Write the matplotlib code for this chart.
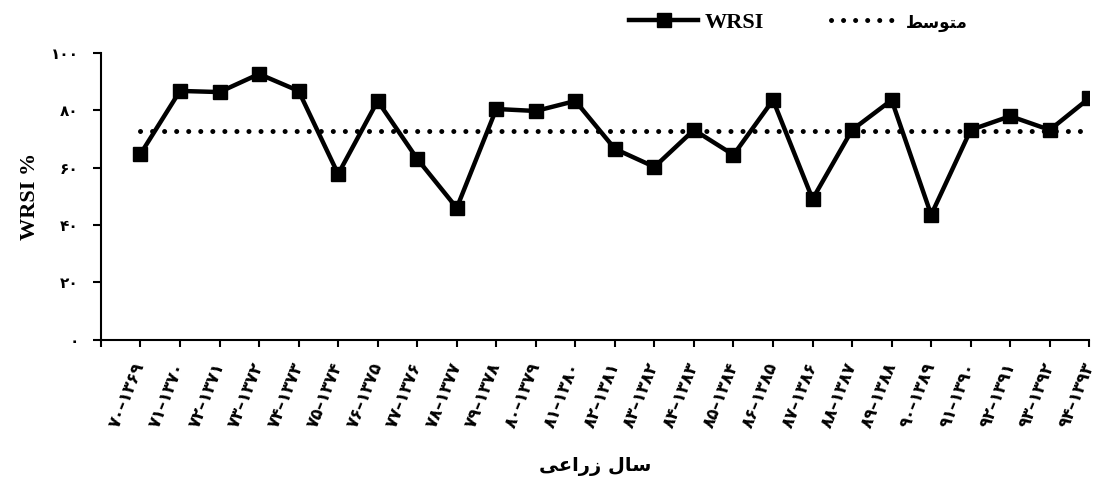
import matplotlib
matplotlib.use("Agg")
import matplotlib.pyplot as plt
import numpy as np

plt.rcParams["font.family"] = ["Liberation Serif", "DejaVu Sans"]
plt.rcParams["font.weight"] = "bold"

# crop years (Persian digits, visual order)
years = [
    "۷۰–۱۳۶۹", "۷۱–۱۳۷۰", "۷۲–۱۳۷۱", "۷۳–۱۳۷۲", "۷۴–۱۳۷۳",
    "۷۵–۱۳۷۴", "۷۶–۱۳۷۵", "۷۷–۱۳۷۶", "۷۸–۱۳۷۷", "۷۹–۱۳۷۸",
    "۸۰–۱۳۷۹", "۸۱–۱۳۸۰", "۸۲–۱۳۸۱", "۸۳–۱۳۸۲", "۸۴–۱۳۸۳",
    "۸۵–۱۳۸۴", "۸۶–۱۳۸۵", "۸۷–۱۳۸۶", "۸۸–۱۳۸۷", "۸۹–۱۳۸۸",
    "۹۰–۱۳۸۹", "۹۱–۱۳۹۰", "۹۲–۱۳۹۱", "۹۳–۱۳۹۲", "۹۴–۱۳۹۳",
]
wrsi = [64.8, 86.8, 86.4, 92.7, 86.8, 57.8, 83.3, 63.1, 46.0, 80.5,
        79.8, 83.3, 66.6, 60.3, 73.2, 64.5, 83.6, 49.1, 73.2, 83.6,
        43.6, 73.2, 78.0, 73.2, 84.3]
y_ticks = [0, 20, 40, 60, 80, 100]
y_tick_labels = ["۰", "۲۰", "۴۰", "۶۰", "۸۰", "۱۰۰"]

# Persian text pre-shaped into presentation forms, visual order
mean_label = "\ufec2\ufeb3\ufeee\ufe98\ufee3"          # متوسط
xlabel = "\ufef0\ufecb\ufe8d\ufead\ufeaf \ufedd\ufe8e\ufeb3"  # سال زراعی

x = np.arange(len(wrsi))
mean_val = np.mean(wrsi)

fig = plt.figure(figsize=(10.97, 4.78), dpi=100)
ax = fig.add_axes([0.092, 0.289, 0.901, 0.600])

ax.plot(x, wrsi, color="black", lw=3.2, marker="s", markersize=10,
        label="WRSI", zorder=3)
ax.plot(x, np.full(len(x), mean_val), color="black", lw=3.6,
        linestyle=(0, (0.01, 2.4)), dash_capstyle="round",
        label=mean_label, zorder=2)

ax.set_xlim(-1, len(x) - 1)
ax.set_ylim(0, 100)
ax.set_xticks(np.arange(-1, len(x)))
ax.set_xticklabels([""] + years, rotation=68, ha="right", va="center",
                   rotation_mode="anchor", fontsize=12,
                   family=["DejaVu Sans"], fontweight="bold")
ax.set_yticks(y_ticks)
ax.set_yticklabels(y_tick_labels, fontsize=11, family=["DejaVu Sans"],
                   fontweight="bold")
ax.tick_params(axis="x", direction="out", length=5, width=1.5, pad=12)
ax.tick_params(axis="y", direction="out", length=6, width=1.5, pad=10)
for side in ["top", "right"]:
    ax.spines[side].set_visible(False)
for side in ["left", "bottom"]:
    ax.spines[side].set_linewidth(1.5)

ax.set_ylabel("WRSI %", fontsize=16, fontweight="bold", labelpad=8)
ax.set_xlabel(xlabel, fontsize=14, family=["DejaVu Sans"],
              fontweight="bold")
ax.xaxis.set_label_coords(0.5, -0.41)

leg = fig.legend(loc="center", bbox_to_anchor=(0.728, 0.952), ncol=2,
                 frameon=False, fontsize=16, handlelength=3.1,
                 columnspacing=3.0, handletextpad=0.3)
leg.get_texts()[1].set_fontsize(12)
leg.get_texts()[1].set_family(["DejaVu Sans"])

fig.savefig("out.png", dpi=100)
